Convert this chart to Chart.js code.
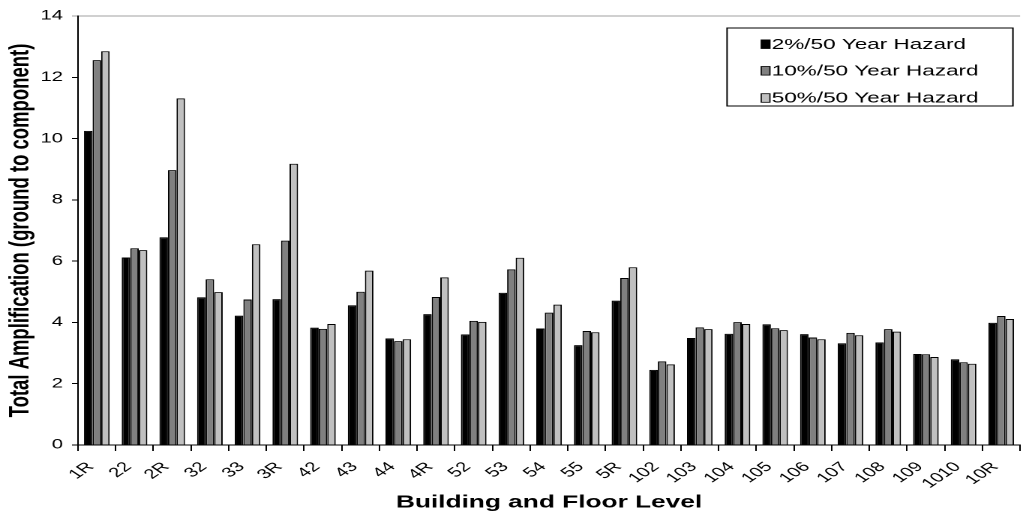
<!DOCTYPE html>
<html lang="en">
<head>
<meta charset="UTF-8">
<title>Total Amplification</title>
<style>
  html, body { margin: 0; padding: 0; background: #fff; overflow: hidden; }
  /* the reference is stretched sideways, so the whole chart is drawn narrow and scaled */
  #wrap { width: 687px; height: 513px; transform: scaleX(1.5); transform-origin: 0 0; }
</style>
</head>
<body>
<div id="wrap"><canvas id="grafico" width="687" height="513"></canvas></div>

<script src="https://cdn.jsdelivr.net/npm/chart.js"></script>
<script>
const categorias = ['1R', '22', '2R', '32', '33', '3R', '42', '43', '44', '4R', '52', '53', '54',
  '55', '5R', '102', '103', '104', '105', '106', '107', '108', '109', '1010', '10R'];

const hazard2 = [10.25, 6.12, 6.78, 4.82, 4.22, 4.76, 3.83, 4.56, 3.48, 4.27, 3.61, 4.97, 3.80,
  3.26, 4.71, 2.45, 3.49, 3.63, 3.94, 3.62, 3.32, 3.35, 2.97, 2.80, 3.99];
const hazard10 = [12.56, 6.42, 8.97, 5.41, 4.75, 6.67, 3.79, 5.00, 3.39, 4.83, 4.05, 5.73, 4.32,
  3.72, 5.45, 2.73, 3.84, 4.01, 3.81, 3.51, 3.66, 3.78, 2.96, 2.70, 4.21];
const hazard50 = [12.85, 6.36, 11.31, 4.99, 6.55, 9.18, 3.95, 5.69, 3.45, 5.47, 4.02, 6.11, 4.58,
  3.68, 5.80, 2.63, 3.78, 3.95, 3.75, 3.45, 3.58, 3.70, 2.87, 2.65, 4.11];

const ticksY = [0, 2, 4, 6, 8, 10, 12, 14];

const fonte = "'Liberation Sans', Arial, sans-serif";

// legenda com moldura, desenhada por cima do grafico
const legendaCaixa = {
  id: 'legendaCaixa',
  afterDraw(chart) {
    const ctx = chart.ctx;
    const x0 = 484.7, y0 = 28, w = 190.6, h = 78;
    ctx.save();
    ctx.fillStyle = '#fff';
    ctx.fillRect(x0, y0, w, h);
    ctx.strokeStyle = '#000';
    ctx.lineWidth = 1;
    ctx.strokeRect(x0, y0, w, h);
    const linhas = [44.2, 70.8, 98];
    ctx.font = '15px ' + fonte;
    ctx.textBaseline = 'middle';
    ctx.textAlign = 'left';
    chart.data.datasets.forEach((ds, i) => {
      const y = linhas[i];
      ctx.fillStyle = ds.backgroundColor;
      ctx.fillRect(507.5, y - 4.3, 5.8, 8.6);
      ctx.strokeStyle = '#000';
      ctx.lineWidth = 0.8;
      ctx.strokeRect(507.5, y - 4.3, 5.8, 8.6);
      ctx.fillStyle = '#000';
      ctx.fillText(ds.label, 514.5, y + 0.5);
    });
    ctx.restore();
  }
};

const dados = {
  labels: categorias,
  datasets: [
    { label: '2%/50 Year Hazard', data: hazard2, backgroundColor: '#000000' },
    { label: '10%/50 Year Hazard', data: hazard10, backgroundColor: '#808080' },
    { label: '50%/50 Year Hazard', data: hazard50, backgroundColor: '#c0c0c0' }
  ].map(d => Object.assign(d, {
    borderColor: '#000',
    borderWidth: 1,
    barPercentage: 1.0,
    categoryPercentage: 0.68
  }))
};

const config = {
  type: 'bar',
  data: dados,
  options: {
    responsive: false,
    animation: false,
    devicePixelRatio: 2,
    layout: { padding: { top: 16, right: 1.7, left: 0, bottom: 0 } },
    plugins: {
      legend: { display: false },
      tooltip: { enabled: false }
    },
    scales: {
      x: {
        grid: { drawOnChartArea: false, offset: true, tickLength: 6, tickColor: '#000' },
        border: { color: '#000', width: 1 },
        ticks: {
          autoSkip: false, maxRotation: 45, minRotation: 45,
          labelOffset: -4, padding: 8,
          color: '#000', font: { family: fonte, size: 13.5 }
        },
        title: {
          display: true, text: 'Building and Floor Level', color: '#000',
          font: { family: fonte, size: 17.5, weight: 'bold' },
          padding: { top: 0, bottom: 0 }
        },
        afterFit(scale) { scale.height = 68; }
      },
      y: {
        min: 0, max: 14,
        afterBuildTicks(scale) { scale.ticks = ticksY.map(v => ({ value: v })); },
        grid: {
          color: c => (c.tick && c.tick.value === 14) ? '#a0a0a0' : 'rgba(0,0,0,0)',
          tickColor: c => (c.tick && c.tick.value === 14) ? '#a0a0a0' : '#000',
          tickLength: 4
        },
        border: { color: '#000', width: 1 },
        ticks: { padding: 6, color: '#000', font: { family: fonte, size: 13.5 } },
        title: {
          display: true, text: 'Total Amplification (ground to component)', color: '#000',
          font: { family: fonte, size: 18.5, weight: 'bold' },
          padding: { top: 3, bottom: 0 }
        },
        afterFit(scale) { scale.width = 52; }
      }
    }
  },
  plugins: [legendaCaixa]
};

let meuGrafico = new Chart(document.getElementById('grafico'), config);
</script>
</body>
</html>
